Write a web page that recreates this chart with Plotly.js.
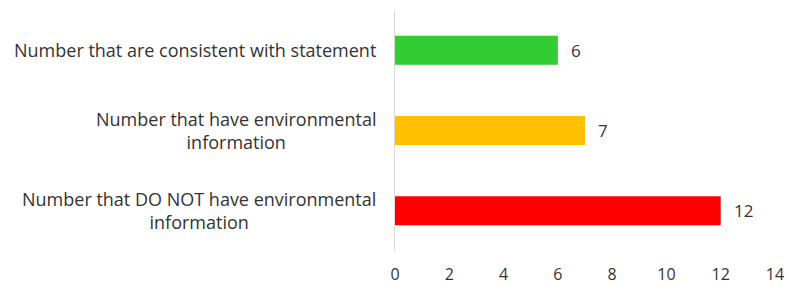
<!DOCTYPE html>
<html>
<head>
<meta charset="utf-8">
<script src="https://cdn.plot.ly/plotly-3.0.1.min.js"></script>
<style>html,body{margin:0;padding:0;background:#fff;}#chart{width:790px;height:286px;}</style>
</head>
<body>
<div id="chart"></div>
<script>
const categories = [
  "Number that are consistent with statement",
  "Number that have environmental<br>information",
  "Number that DO NOT have environmental<br>information"
];
const values = [6, 7, 12];
const barColors = ["#33CC33", "#FFC000", "#FF0000"];
const xTicks = [0, 2, 4, 6, 8, 10, 12, 14];

const FONT = "Open Sans, Liberation Sans, Arial, sans-serif";
const TXT = "#333333";

const trace = {
  type: "bar",
  orientation: "h",
  y: categories,
  x: values,
  marker: {color: barColors},
  hoverinfo: "none"
};

const annotations = [];
categories.forEach((c, i) => {
  annotations.push({
    xref: "paper", yref: "y", x: 0, y: c, text: c,
    xanchor: "right", yanchor: "middle", align: "center",
    xshift: -17, showarrow: false,
    font: {family: FONT, size: 18, color: TXT}
  });
  annotations.push({
    xref: "x", yref: "y", x: values[i], y: c, text: String(values[i]),
    xanchor: "left", yanchor: "middle", xshift: 11, showarrow: false,
    font: {family: FONT, size: 17, color: TXT}
  });
});

const layout = {
  width: 790, height: 286,
  margin: {l: 395, r: 15, t: 10, b: 35},
  paper_bgcolor: "#fff", plot_bgcolor: "#fff",
  showlegend: false,
  bargap: 0.64,
  xaxis: {
    range: [0, 14], tickvals: xTicks, ticktext: xTicks.map(String),
    showgrid: false, zeroline: false, showline: false, ticks: "",
    ticklabelstandoff: 12,
    tickfont: {family: FONT, size: 16, color: TXT}, fixedrange: true
  },
  yaxis: {
    type: "category", autorange: "reversed",
    showticklabels: false, showgrid: false, zeroline: false,
    showline: true, linecolor: "#d9d9d9", linewidth: 1, ticks: "", fixedrange: true
  },
  annotations: annotations
};

Plotly.newPlot("chart", [trace], layout, {displayModeBar: false, staticPlot: true});
</script>
</body>
</html>
